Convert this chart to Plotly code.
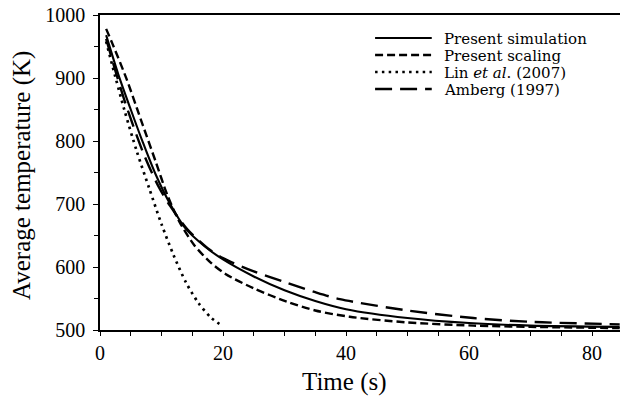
import plotly.graph_objects as go

# ---- data ----
sim_t = [1, 3, 5, 7, 9, 11.4, 14, 17, 20, 25, 30, 35, 40, 50, 60, 70, 84.5]
sim_T = [968, 905, 850, 797, 748, 700, 660, 633, 612, 585, 563, 546, 533, 519, 511, 507, 505]

scal_t = [1, 2, 4.3, 6, 7, 9.1, 11, 12.9, 15.3, 18, 20.4, 25, 30.4, 35, 40.6, 50, 60.7, 70, 84.5]
scal_T = [978, 955, 899, 852, 824, 766, 713, 672, 635, 607, 589, 566, 545, 531, 521, 512, 507, 505, 503]

lin_t = [1, 2, 4, 6, 8, 10, 12, 14, 16, 18, 20]
lin_T = [958, 920, 848, 783, 725, 668, 618, 575, 543, 520, 506]

amb_t = [1, 2.7, 4.3, 7, 9.4, 11.4, 14.2, 17.5, 20, 25, 30.4, 35, 39, 50, 60.7, 70, 84.5]
amb_T = [962, 905, 855, 782, 730, 697, 660, 630, 614, 593, 575, 560, 549, 531, 519, 513, 509]

legend_labels = ["Present simulation", "Present scaling",
                 "Lin <i>et al</i>. (2007)", "Amberg (1997)"]
x_ticks = [0, 20, 40, 60, 80]
y_ticks = [500, 600, 700, 800, 900, 1000]

FONT = "Liberation Serif, Times New Roman, serif"
LEG_FONT = "DejaVu Serif, serif"

styles = [
    dict(width=2.1, dash="solid"),
    dict(width=2.4, dash="8px,4px"),
    dict(width=2.7, dash="2.5px,4.3px"),
    dict(width=2.4, dash="17px,8px"),
]
series = [(sim_t, sim_T), (scal_t, scal_T), (lin_t, lin_T), (amb_t, amb_T)]

fig = go.Figure()
for (t, T), st, name in zip(series, styles, legend_labels):
    fig.add_trace(go.Scatter(
        x=t, y=T, mode="lines", name=name, showlegend=False,
        line=dict(color="black", width=st["width"], dash=st["dash"],
                  shape="spline", smoothing=0.8),
    ))

# manual legend (keys + labels); rows at ~38, 55, 72, 89 px from the top
leg_y = [0.927, 0.873, 0.819, 0.765]
for y, st, name in zip(leg_y, styles, legend_labels):
    fig.add_shape(type="line", xref="paper", yref="paper",
                  x0=0.529, x1=0.638, y0=y, y1=y,
                  line=dict(color="black", width=st["width"], dash=st["dash"]))
    fig.add_annotation(x=0.658, y=y, xref="paper", yref="paper", text=name,
                       showarrow=False, xanchor="left", yanchor="middle", yshift=-1,
                       font=dict(family=LEG_FONT, size=15, color="black"))

# axis titles
fig.add_annotation(x=0.471, y=-0.165, xref="paper", yref="paper", text="Time (s)",
                   showarrow=False, xanchor="center", yanchor="middle",
                   font=dict(family=FONT, size=25, color="black"))
fig.add_annotation(x=-0.15, y=0.489, xref="paper", yref="paper",
                   text="Average temperature (K)", textangle=-90,
                   showarrow=False, xanchor="center", yanchor="middle",
                   font=dict(family=FONT, size=25, color="black"))

fig.update_xaxes(range=[0, 84.55], tickvals=x_ticks, ticks="outside", ticklen=4,
                 tickwidth=1.3, tickcolor="black", showline=True, linecolor="black",
                 linewidth=1.5, mirror=True, showgrid=False, zeroline=False,
                 minor=dict(dtick=5, ticks="outside", ticklen=4, tickwidth=1.3,
                            tickcolor="black", showgrid=False),
                 tickfont=dict(family=FONT, size=20, color="black"))
fig.update_yaxes(range=[500, 1000], tickvals=y_ticks, ticks="outside", ticklen=5,
                 tickwidth=1.3, tickcolor="black", showline=True, linecolor="black",
                 linewidth=1.5, showgrid=False, zeroline=False,
                 minor=dict(dtick=50, ticks="outside", ticklen=4, tickwidth=1.3,
                            tickcolor="black", showgrid=False),
                 ticklabelstandoff=4,
                 tickfont=dict(family=FONT, size=20, color="black"))

fig.update_layout(width=620, height=397,
                  margin=dict(l=100, r=0, t=15, b=67),
                  paper_bgcolor="white", plot_bgcolor="white",
                  font=dict(family=FONT, color="black"))

fig.write_html("out.html", config={"displayModeBar": False},
               post_script="document.body.style.margin='0';document.body.style.overflow='hidden';")
